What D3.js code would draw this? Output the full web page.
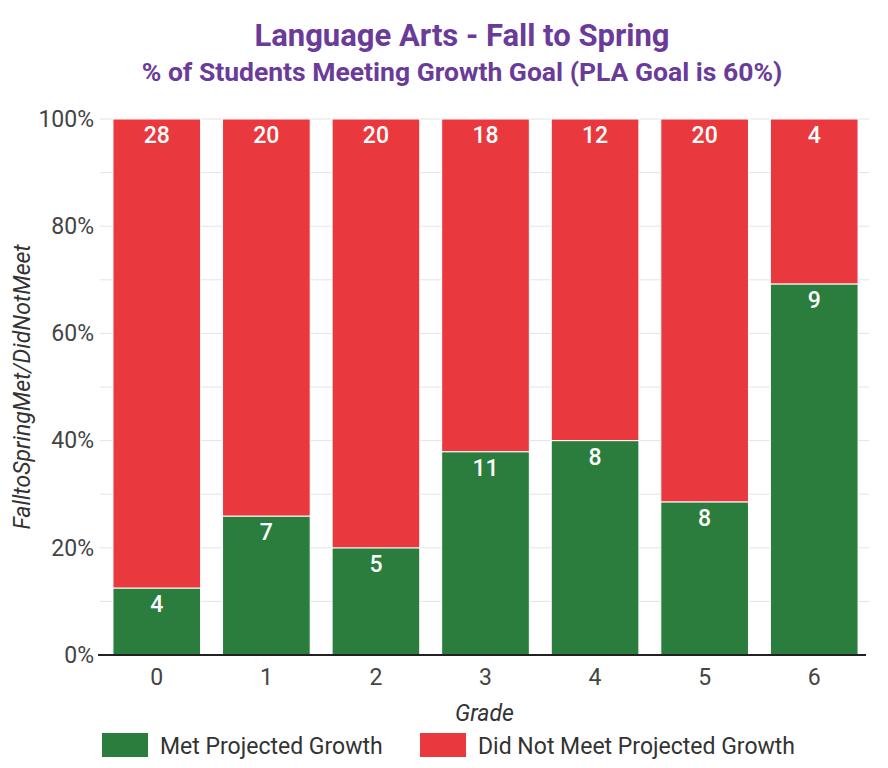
<!DOCTYPE html>
<html>
<head>
<meta charset="utf-8">
<script src="https://cdn.jsdelivr.net/npm/d3@7"></script>
<style>
  body { margin: 0; background: #fff; }
  svg { font-family: Roboto, "Liberation Sans", Arial, sans-serif; }
</style>
</head>
<body>
<svg width="888" height="768"></svg>
<script>
// data
var grades = ["0", "1", "2", "3", "4", "5", "6"];
var metCounts = [4, 7, 5, 11, 8, 8, 9];
var notMetCounts = [28, 20, 20, 18, 12, 20, 4];
var seriesNames = ["Met Projected Growth", "Did Not Meet Projected Growth"];
var yTicks = [0, 0.2, 0.4, 0.6, 0.8, 1];

var colors = { met: "#2a7d3c", notMet: "#e9393e" };

var svg = d3.select("svg");
var plot = { left: 102, right: 869, top: 119, bottom: 655 };

var x = d3.scaleBand().domain(grades).range([plot.left, plot.right]).paddingInner(0.2).paddingOuter(0.1);
var y = d3.scaleLinear().domain([0, 1]).range([plot.bottom, plot.top]);

// rows for stacking
var rows = grades.map(function(g, i) {
  var total = metCounts[i] + notMetCounts[i];
  return { grade: g, met: metCounts[i] / total, notMet: notMetCounts[i] / total, metN: metCounts[i], notMetN: notMetCounts[i] };
});
var stack = d3.stack().keys(["met", "notMet"])(rows);

// gridlines every 10%
svg.append("g").selectAll("line")
  .data(d3.range(1, 11).map(function(d) { return d / 10; }))
  .join("line")
  .attr("x1", plot.left - 2).attr("x2", plot.right)
  .attr("y1", function(d) { return y(d); }).attr("y2", function(d) { return y(d); })
  .attr("stroke", "#e4e4e4").attr("stroke-width", 1);

// y axis labels
var yAxis = svg.append("g")
  .attr("transform", "translate(" + (plot.left - 5) + ",0)")
  .call(d3.axisLeft(y).tickValues(yTicks).tickFormat(d3.format(".0%")).tickSize(0));
yAxis.select(".domain").remove();
yAxis.selectAll("text").attr("font-size", 23).attr("fill", "#444").attr("font-family", "Roboto, sans-serif");

// bars
var layer = svg.append("g").selectAll("g").data(stack).join("g")
  .attr("fill", function(d) { return d.key == "met" ? colors.met : colors.notMet; });
layer.selectAll("rect").data(function(d) { return d; }).join("rect")
  .attr("x", function(d) { return x(d.data.grade); })
  .attr("width", x.bandwidth())
  .attr("y", function(d) { return y(d[1]); })
  .attr("height", function(d) { return y(d[0]) - y(d[1]); })
  .attr("stroke", "#fff").attr("stroke-width", 1);

// count labels near top of each segment
stack.forEach(function(s) {
  svg.append("g").selectAll("text").data(s).join("text")
    .attr("x", function(d) { return x(d.data.grade) + x.bandwidth() / 2; })
    .attr("y", function(d) { return y(d[1]) + 24; })
    .attr("text-anchor", "middle")
    .attr("font-size", 23).attr("font-weight", 500)
    .attr("fill", "#fff")
    .text(function(d) { return s.key == "met" ? d.data.metN : d.data.notMetN; });
});

// x axis
var xAxis = svg.append("g")
  .attr("transform", "translate(0," + plot.bottom + ")")
  .call(d3.axisBottom(x).tickSize(0).tickPadding(14));
xAxis.select(".domain").attr("d", "M" + (plot.left - 4) + ",0H" + (plot.right - 3)).attr("stroke", "#222").attr("stroke-width", 2);
xAxis.selectAll("text").attr("font-size", 23).attr("fill", "#444").attr("font-family", "Roboto, sans-serif");

// axis titles
svg.append("text")
  .attr("x", (plot.left + plot.right) / 2 - 1).attr("y", 721)
  .attr("text-anchor", "middle").attr("font-size", 23).attr("font-style", "italic").attr("fill", "#333")
  .text("Grade");
svg.append("text")
  .attr("transform", "translate(30," + ((plot.top + plot.bottom) / 2) + ") rotate(-90)")
  .attr("text-anchor", "middle").attr("font-size", 23).attr("font-style", "italic").attr("fill", "#333")
  .text("FalltoSpringMet/DidNotMeet");

// title
svg.append("text")
  .attr("x", 462).attr("y", 46)
  .attr("text-anchor", "middle").attr("font-size", 31).attr("font-weight", "bold").attr("fill", "#6a3b98")
  .text("Language Arts - Fall to Spring");
svg.append("text")
  .attr("x", 462).attr("y", 81)
  .attr("text-anchor", "middle").attr("font-size", 26.5).attr("font-weight", "bold").attr("fill", "#6a3b98")
  .text("% of Students Meeting Growth Goal (PLA Goal is 60%)");

// legend
var legendX = [102, 420];
var legend = svg.append("g").selectAll("g").data(seriesNames).join("g")
  .attr("transform", function(d, i) { return "translate(" + legendX[i] + ",733)"; });
legend.append("rect").attr("width", 46).attr("height", 24)
  .attr("fill", function(d, i) { return i == 0 ? colors.met : colors.notMet; });
legend.append("text").attr("x", 58).attr("y", 21)
  .attr("font-size", 23).attr("fill", "#333")
  .text(function(d) { return d; });
</script>
</body>
</html>
